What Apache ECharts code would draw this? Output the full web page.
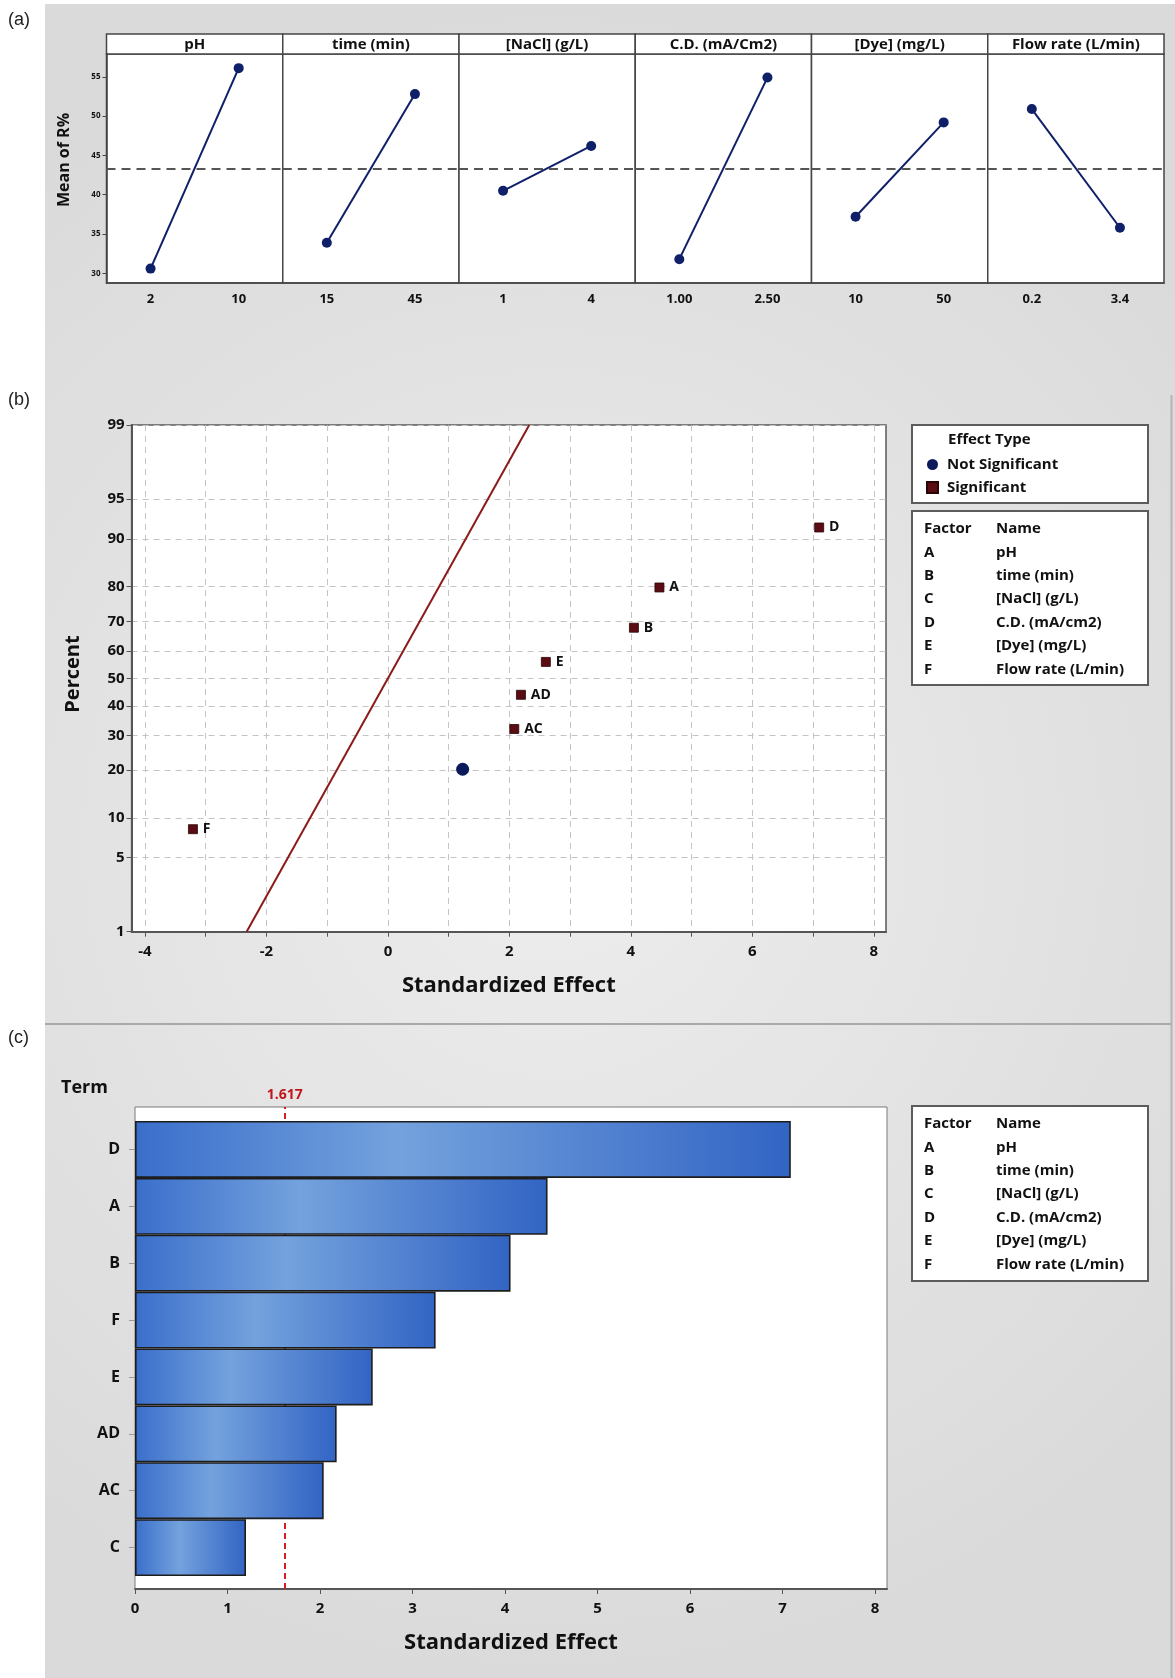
<!DOCTYPE html>
<html>
<head>
<meta charset="utf-8">
<title>Main effects, normal plot and Pareto chart of standardized effects</title>
<script src="https://cdn.jsdelivr.net/npm/echarts@6/dist/echarts.min.js"></script>
<style>
  html, body { margin: 0; padding: 0; background: #ffffff; }
  #chart { width: 1175px; height: 1678px; }
</style>
</head>
<body>
<div id="chart"></div>
<script>
// ---------- (a) main effects: mean response at low / high level ----------
const factorTitles = ['pH', 'time (min)', '[NaCl] (g/L)', 'C.D. (mA/Cm2)', '[Dye] (mg/L)', 'Flow rate (L/min)'];
const factorLevels = [['2', '10'], ['15', '45'], ['1', '4'], ['1.00', '2.50'], ['10', '50'], ['0.2', '3.4']];
const levelMeans = [[30.6, 56.1], [33.9, 52.8], [40.5, 46.2], [31.8, 54.9], [37.2, 49.2], [50.9, 35.8]];
const meanAxisTicks = [30, 35, 40, 45, 50, 55];

// ---------- (b) normal plot of the standardized effects ----------
const effectTerms = ['F', 'C', 'AC', 'AD', 'E', 'B', 'A', 'D'];
const effectValues = [-3.21, 1.23, 2.08, 2.19, 2.60, 4.05, 4.47, 7.10];
const effectPercents = [8.3, 20.2, 32.1, 44.0, 56.0, 67.9, 79.8, 91.7];
const effectSignificant = [true, false, true, true, true, true, true, true];
const percentTicks = [1, 5, 10, 20, 30, 40, 50, 60, 70, 80, 90, 95, 99];
const effectTicks = [-4, -3, -2, -1, 0, 1, 2, 3, 4, 5, 6, 7, 8];
const effectLabels = [-4, -2, 0, 2, 4, 6, 8];
const refLineMean = 0;
const refLineSd = 1;

// ---------- (c) Pareto chart of the standardized effects ----------
const paretoTerms = ['D', 'A', 'B', 'F', 'E', 'AD', 'AC', 'C'];
const paretoValues = [7.09, 4.46, 4.06, 3.25, 2.57, 2.18, 2.04, 1.20];
const paretoTicks = [0, 1, 2, 3, 4, 5, 6, 7, 8];
const criticalValue = 1.617;

// factor key shown next to (b) and (c)
const factorCodes = ['A', 'B', 'C', 'D', 'E', 'F'];
const factorNames = ['pH', 'time (min)', '[NaCl] (g/L)', 'C.D. (mA/cm2)', '[Dye] (mg/L)', 'Flow rate (L/min)'];

// inverse of the standard normal CDF (Acklam's rational approximation)
function probit(p) {
  const a = [-3.969683028665376e+01, 2.209460984245205e+02, -2.759285104469687e+02, 1.383577518672690e+02, -3.066479806614716e+01, 2.506628277459239e+00];
  const b = [-5.447609879822406e+01, 1.615858368580409e+02, -1.556989798598866e+02, 6.680131188771972e+01, -1.328068155288572e+01];
  const c = [-7.784894002430293e-03, -3.223964580411365e-01, -2.400758277161838e+00, -2.549732539343734e+00, 4.374664141464968e+00, 2.938163982698783e+00];
  const d = [7.784695709041462e-03, 3.224671290700398e-01, 2.445134137142996e+00, 3.754408661907416e+00];
  const pl = 0.02425, ph = 1 - pl;
  let q, r;
  if (p < pl) {
    q = Math.sqrt(-2 * Math.log(p));
    return (((((c[0] * q + c[1]) * q + c[2]) * q + c[3]) * q + c[4]) * q + c[5]) / ((((d[0] * q + d[1]) * q + d[2]) * q + d[3]) * q + 1);
  }
  if (p <= ph) {
    q = p - 0.5; r = q * q;
    return (((((a[0] * r + a[1]) * r + a[2]) * r + a[3]) * r + a[4]) * r + a[5]) * q / (((((b[0] * r + b[1]) * r + b[2]) * r + b[3]) * r + b[4]) * r + 1);
  }
  q = Math.sqrt(-2 * Math.log(1 - p));
  return -(((((c[0] * q + c[1]) * q + c[2]) * q + c[3]) * q + c[4]) * q + c[5]) / ((((d[0] * q + d[1]) * q + d[2]) * q + d[3]) * q + 1);
}

const FONT = '"Open Sans"';
const INK = '#111111';
const FRAME = '#454545';

const chart = echarts.init(document.getElementById('chart'), null, { renderer: 'canvas' });

const grids = [], xAxes = [], yAxes = [], series = [], graphics = [];

// page backdrop
graphics.push({
  type: 'rect', z: -100, silent: true,
  shape: { x: 45, y: 4, width: 1130, height: 1674 },
  style: {
    fill: new echarts.graphic.RadialGradient(0.45, 0.5, 0.75, [
      { offset: 0, color: '#ededed' }, { offset: 1, color: '#dadada' }
    ])
  }
});
graphics.push({ type: 'line', z: -90, silent: true, shape: { x1: 45, y1: 1024, x2: 1172, y2: 1024 }, style: { stroke: '#a9a9a9', lineWidth: 2 } });
graphics.push({ type: 'line', z: -90, silent: true, shape: { x1: 1171.5, y1: 395, x2: 1171.5, y2: 1678 }, style: { stroke: '#b4b4b4', lineWidth: 2 } });

// panel letters
[['(a)', 20], ['(b)', 400], ['(c)', 1038]].forEach(([t, y]) => {
  graphics.push({ type: 'text', x: 8, y: y, style: { text: t, font: '18px "Liberation Sans"', fill: '#222', verticalAlign: 'middle' } });
});

// ---------------- (a) ----------------
const aLeft = 106.5, aRight = 1164, aTop = 54, aBottom = 283, aHeaderTop = 34;
const aW = (aRight - aLeft) / factorTitles.length;
const grandMean = levelMeans.flat().reduce((s, v) => s + v, 0) / levelMeans.flat().length;

factorTitles.forEach((title, i) => {
  const left = aLeft + i * aW;
  grids.push({
    left: left, top: aTop, width: aW, height: aBottom - aTop,
    show: true, backgroundColor: '#ffffff', borderColor: FRAME, borderWidth: 1.5
  });
  xAxes.push({
    type: 'category', gridIndex: i, data: factorLevels[i], boundaryGap: true,
    axisLine: { lineStyle: { color: FRAME, width: 1.5 } },
    axisTick: { alignWithLabel: true, length: 5, lineStyle: { color: FRAME } },
    axisLabel: { color: INK, fontFamily: FONT, fontWeight: 'bold', fontSize: 13, margin: 10 }
  });
  const showY = i === 0;
  yAxes.push({
    type: 'value', gridIndex: i, min: 28.77, max: 57.9,
    splitLine: { show: false },
    axisLine: { show: showY, lineStyle: { color: FRAME, width: 1.5 } },
    axisTick: { show: showY, customValues: meanAxisTicks, length: 4, lineStyle: { color: FRAME } },
    axisLabel: { show: showY, customValues: meanAxisTicks, color: INK, fontFamily: FONT, fontWeight: 'bold', fontSize: 8, margin: 6 }
  });
  series.push({
    type: 'line', xAxisIndex: i, yAxisIndex: i, data: levelMeans[i],
    symbol: 'circle', symbolSize: 10, silent: true,
    itemStyle: { color: '#0f1f68' },
    lineStyle: { color: '#0f1f68', width: 2 },
    markLine: {
      silent: true, symbol: 'none', label: { show: false },
      lineStyle: { color: '#555555', type: [9, 6], width: 2 },
      data: [{ yAxis: grandMean }]
    }
  });
  // factor header strip
  graphics.push({
    type: 'rect', silent: true, shape: { x: left, y: aHeaderTop, width: aW, height: aTop - aHeaderTop },
    style: { fill: '#ffffff', stroke: FRAME, lineWidth: 1.5 }
  });
  graphics.push({
    type: 'text', silent: true, x: left + aW / 2, y: (aHeaderTop + aTop) / 2 + 1,
    style: { text: title, font: 'bold 15px ' + FONT, fill: INK, align: 'center', verticalAlign: 'middle' }
  });
});
graphics.push({
  type: 'text', silent: true, x: 64, y: 160, rotation: Math.PI / 2,
  style: { text: 'Mean of R%', font: 'bold 16px ' + FONT, fill: INK, align: 'center', verticalAlign: 'middle' }
});

// ---------------- (b) ----------------
const zMin = probit(percentTicks[0] / 100);
const zMax = probit(percentTicks[percentTicks.length - 1] / 100);
const zTicks = percentTicks.map(p => probit(p / 100));
const bIdx = grids.length;
grids.push({
  left: 131.6, top: 425, width: 754.4, height: 506.7,
  show: true, backgroundColor: '#ffffff', borderColor: '#5a5a5a', borderWidth: 1.5
});
const gridDash = { color: '#c4c4c4', type: [6, 5], width: 1 };
xAxes.push({
  type: 'value', gridIndex: bIdx, min: -4.22, max: 8.2,
  name: 'Standardized Effect', nameLocation: 'middle', nameGap: 43,
  nameTextStyle: { color: INK, fontFamily: FONT, fontWeight: 'bold', fontSize: 22 },
  axisLine: { onZero: false, lineStyle: { color: '#555', width: 2 } },
  axisTick: { customValues: effectTicks, length: 5, lineStyle: { color: '#555' } },
  axisLabel: { customValues: effectLabels, color: INK, fontFamily: FONT, fontWeight: 'bold', fontSize: 15, margin: 13 },
  splitLine: { show: true, lineStyle: gridDash }
});
yAxes.push({
  type: 'value', gridIndex: bIdx, min: zMin, max: zMax,
  axisLine: { onZero: false, lineStyle: { color: '#555', width: 2 } },
  axisTick: { customValues: zTicks, length: 5, lineStyle: { color: '#555' } },
  axisLabel: {
    customValues: zTicks, color: INK, fontFamily: FONT, fontWeight: 'bold', fontSize: 15, margin: 7,
    formatter: v => {
      let best = 0;
      zTicks.forEach((z, k) => { if (Math.abs(z - v) < Math.abs(zTicks[best] - v)) best = k; });
      return String(percentTicks[best]);
    }
  },
  splitLine: { show: true, lineStyle: gridDash }
});
const sigData = [], nonSigData = [];
effectTerms.forEach((t, k) => {
  const pt = { value: [effectValues[k], probit(effectPercents[k] / 100)], name: t };
  (effectSignificant[k] ? sigData : nonSigData).push(pt);
});
series.push({
  name: 'Fitted line', type: 'line', xAxisIndex: bIdx, yAxisIndex: bIdx, silent: true,
  symbol: 'none', lineStyle: { color: '#8c1a1a', width: 2 },
  data: [[refLineMean + refLineSd * zMin, zMin], [refLineMean + refLineSd * zMax, zMax]]
});
series.push({
  name: 'Not Significant', type: 'scatter', xAxisIndex: bIdx, yAxisIndex: bIdx, silent: true,
  symbol: 'circle', symbolSize: 13, itemStyle: { color: '#0b1a5a', opacity: 1 }, data: nonSigData
});
series.push({
  name: 'Significant', type: 'scatter', xAxisIndex: bIdx, yAxisIndex: bIdx, silent: true,
  symbol: 'rect', symbolSize: 9, itemStyle: { color: '#5a0c12', opacity: 1, borderColor: '#2a0508', borderWidth: 0.8 },
  label: { show: true, position: 'right', distance: 5, formatter: '{b}', color: INK, fontFamily: FONT, fontWeight: 'bold', fontSize: 14 },
  data: sigData
});
graphics.push({
  type: 'text', silent: true, x: 73, y: 674, rotation: Math.PI / 2,
  style: { text: 'Percent', font: 'bold 20px ' + FONT, fill: INK, align: 'center', verticalAlign: 'middle' }
});

// legend boxes of (b)
function boxRect(x, y, w, h) {
  graphics.push({ type: 'rect', silent: true, shape: { x: x, y: y, width: w, height: h }, style: { fill: '#ffffff', stroke: '#5c5c5c', lineWidth: 2 } });
}
boxRect(912, 425, 236, 78);
graphics.push({ type: 'text', silent: true, x: 948, y: 440, style: { text: 'Effect Type', font: 'bold 15px ' + FONT, fill: INK, verticalAlign: 'middle' } });

function factorKey(x, y, h) {
  boxRect(x, y, 236, h);
  const rows = [['Factor', 'Name']].concat(factorCodes.map((c, k) => [c, factorNames[k]]));
  rows.forEach((r, k) => {
    const ty = y + 18 + k * 23.4;
    graphics.push({ type: 'text', silent: true, x: x + 12, y: ty, style: { text: r[0], font: 'bold 15px ' + FONT, fill: INK, verticalAlign: 'middle' } });
    graphics.push({ type: 'text', silent: true, x: x + 84, y: ty, style: { text: r[1], font: 'bold 15px ' + FONT, fill: INK, verticalAlign: 'middle' } });
  });
}
factorKey(912, 511, 174);

// ---------------- (c) ----------------
const cLeft = 135, cWidth = 752;
const cFrameIdx = grids.length;
grids.push({
  left: cLeft, top: 1107, width: cWidth, height: 482,
  show: true, backgroundColor: '#ffffff', borderColor: '#7a7a7a', borderWidth: 1
});
xAxes.push({
  type: 'value', gridIndex: cFrameIdx, min: 0, max: 8.13,
  name: 'Standardized Effect', nameLocation: 'middle', nameGap: 43,
  nameTextStyle: { color: INK, fontFamily: FONT, fontWeight: 'bold', fontSize: 22 },
  axisLine: { lineStyle: { color: '#555', width: 2 } },
  axisTick: { customValues: paretoTicks, length: 5, lineStyle: { color: '#555' } },
  axisLabel: { customValues: paretoTicks, color: INK, fontFamily: FONT, fontWeight: 'bold', fontSize: 15, margin: 12 },
  splitLine: { show: false }
});
yAxes.push({
  type: 'value', gridIndex: cFrameIdx, min: 0, max: 1, show: false
});
series.push({
  name: 'Critical value', type: 'line', xAxisIndex: cFrameIdx, yAxisIndex: cFrameIdx, data: [], z: 1, silent: true,
  markLine: {
    z: 1, silent: true, symbol: 'none', animation: false,
    lineStyle: { color: '#d42020', type: [6, 4], width: 2 },
    label: { show: true, position: 'end', distance: 5, formatter: String(criticalValue), color: '#c0161a', fontFamily: FONT, fontWeight: 'bold', fontSize: 14 },
    data: [{ xAxis: criticalValue }]
  }
});

const cBarIdx = grids.length;
grids.push({ left: cLeft, top: 1121, width: cWidth, height: 455 });
xAxes.push({ type: 'value', gridIndex: cBarIdx, min: 0, max: 8.13, show: false });
yAxes.push({
  type: 'category', gridIndex: cBarIdx, data: paretoTerms, inverse: true,
  axisLine: { show: false },
  axisTick: { show: true, alignWithLabel: true, length: 6, lineStyle: { color: '#9a9a9a' } },
  axisLabel: { color: INK, fontFamily: FONT, fontWeight: 'bold', fontSize: 16, margin: 15 }
});
series.push({
  name: 'Standardized effect', type: 'bar', xAxisIndex: cBarIdx, yAxisIndex: cBarIdx, z: 3, silent: true,
  barCategoryGap: '0%', data: paretoValues,
  itemStyle: {
    color: new echarts.graphic.LinearGradient(0, 0, 1, 0, [
      { offset: 0, color: '#3a6ecb' }, { offset: 0.4, color: '#74a2dd' }, { offset: 1, color: '#3264c4' }
    ]),
    borderColor: '#1d1d1d', borderWidth: 1.6
  }
});
graphics.push({ type: 'text', silent: true, x: 61, y: 1088, style: { text: 'Term', font: 'bold 18px ' + FONT, fill: INK, verticalAlign: 'middle' } });
factorKey(912, 1106, 175);

chart.setOption({
  animation: false,
  backgroundColor: 'transparent',
  textStyle: { fontFamily: FONT },
  grid: grids,
  xAxis: xAxes,
  yAxis: yAxes,
  legend: {
    data: [{ name: 'Not Significant', icon: 'circle' }, { name: 'Significant', icon: 'rect' }],
    orient: 'vertical', left: 921, top: 452, itemGap: 8, itemWidth: 11, itemHeight: 11, selectedMode: false,
    textStyle: { color: INK, fontFamily: FONT, fontWeight: 'bold', fontSize: 15, padding: [0, 0, 0, 4] }
  },
  series: series,
  graphic: { elements: graphics }
});
</script>
</body>
</html>
